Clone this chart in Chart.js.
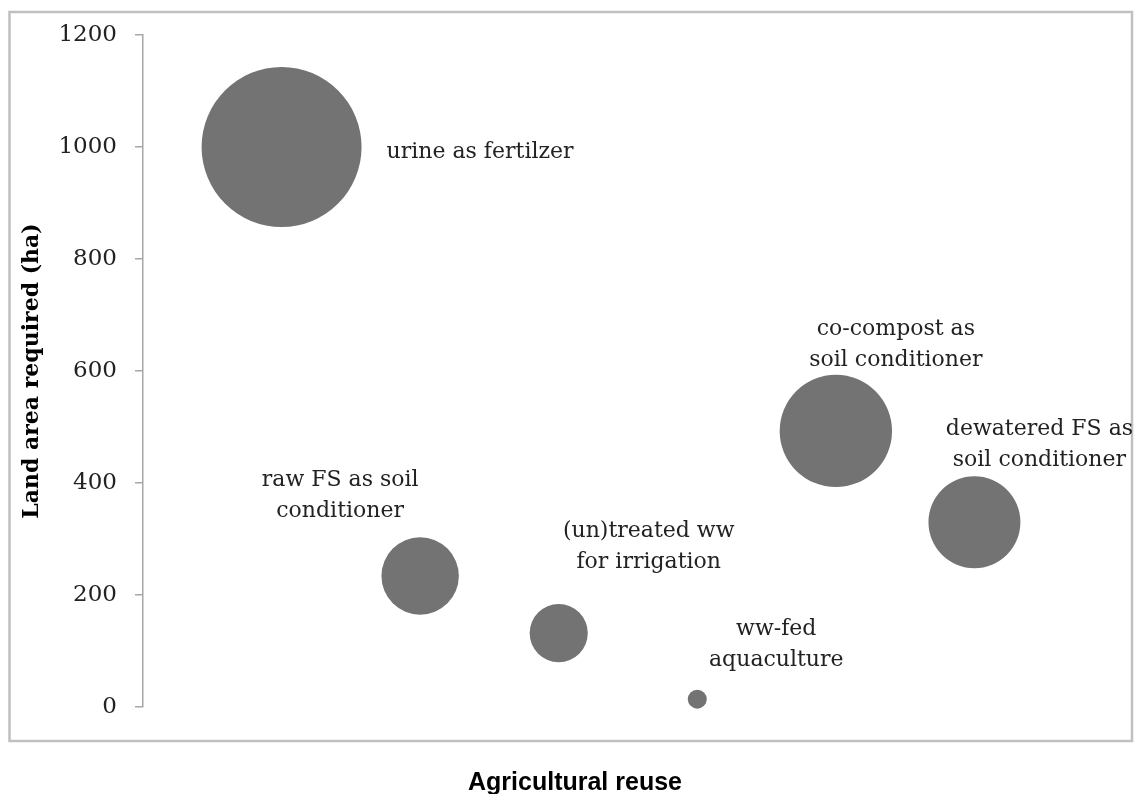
<!DOCTYPE html>
<html lang="en">
<head>
    <meta charset="UTF-8">
    <title>Land area required for agricultural reuse</title>
    <script src="https://cdn.jsdelivr.net/npm/chart.js"></script>
    <style>
        html, body { margin: 0; padding: 0; background: #fff; }
        #wrap { width: 1138px; height: 794px; }
    </style>
</head>
<body>
<div id="wrap"><canvas id="myChart" width="1138" height="794"></canvas></div>

<script>
// data
const categorias = [
    ["urine as fertilzer"],
    ["raw FS as soil", "conditioner"],
    ["(un)treated ww", "for irrigation"],
    ["ww-fed", "aquaculture"],
    ["co-compost as", "soil conditioner"],
    ["dewatered FS as", "soil conditioner"]
];
const posicionX = [1, 2, 3, 4, 5, 6];
const areaHa = [1000, 234, 132, 14, 493, 330];
const tamano = [1000, 234, 132, 14, 493, 330];   // bubble size = land area
const ticksY = [0, 200, 400, 600, 800, 1000, 1200];

// where each label sits relative to its bubble (pixels)
const etiquetas = [
    { align: "left",   dx: 105, dy: 11 },
    { align: "center", dx: -80, dy: -90 },
    { align: "center", dx: 90,  dy: -96 },
    { align: "center", dx: 79,  dy: -64 },
    { align: "center", dx: 60,  dy: -96 },
    { align: "center", dx: 65,  dy: -87 }
];

const radioMax = 80;
const tamanoMax = Math.max(...tamano);

const puntos = posicionX.map((x, i) => ({ x: x, y: areaHa[i], s: tamano[i] }));

const marcoYTextos = {
    id: "marcoYTextos",
    beforeDraw(chart) {
        const ctx = chart.ctx;
        ctx.save();
        ctx.strokeStyle = "#c0c0c0";
        ctx.lineWidth = 2.5;
        ctx.strokeRect(9.5, 12, 1122.5, 729);
        ctx.restore();
    },
    afterDraw(chart) {
        const ctx = chart.ctx;
        const meta = chart.getDatasetMeta(0);
        ctx.save();
        ctx.fillStyle = "#222222";
        ctx.font = "22px 'DejaVu Serif'";
        ctx.textBaseline = "alphabetic";
        meta.data.forEach((el, i) => {
            const e = etiquetas[i];
            ctx.textAlign = e.align;
            categorias[i].forEach((linea, j) => {
                ctx.fillText(linea, el.x + e.dx, el.y + e.dy + j * 31);
            });
        });
        ctx.fillStyle = "#000000";
        ctx.font = "bold 25px 'Liberation Sans'";
        ctx.textAlign = "center";
        ctx.fillText("Agricultural reuse", 575, 790);
        ctx.restore();
    }
};

const ctx = document.getElementById("myChart").getContext("2d");
const chart = new Chart(ctx, {
    type: "bubble",
    data: {
        datasets: [{
            label: "Land area required (ha)",
            data: puntos,
            backgroundColor: "rgb(115,115,115)",
            borderWidth: 0,
            hoverBorderWidth: 0,
            radius: c => radioMax * Math.sqrt(c.raw.s / tamanoMax),
            clip: false
        }]
    },
    options: {
        responsive: false,
        animation: false,
        events: [],
        layout: { autoPadding: false, padding: { left: 0, top: 35, right: 25, bottom: 87 } },
        plugins: {
            legend: { display: false },
            tooltip: { enabled: false }
        },
        scales: {
            x: {
                type: "linear",
                min: 0,
                max: 7,
                display: false
            },
            y: {
                type: "linear",
                min: 0,
                max: 1200,
                afterFit: s => { s.width = 143; },
                afterBuildTicks: s => { s.ticks = ticksY.map(v => ({ value: v })); },
                border: { display: true, color: "#a6a6a6", width: 1.5 },
                grid: {
                    display: true,
                    drawOnChartArea: false,
                    drawTicks: true,
                    tickLength: 8,
                    color: "#a6a6a6",
                    lineWidth: 1.5
                },
                ticks: {
                    padding: 18,
                    color: "#222222",
                    font: { family: "'DejaVu Serif'", size: 23 },
                    callback: v => String(v)
                },
                title: {
                    display: true,
                    text: "Land area required (ha)",
                    color: "#000000",
                    font: { family: "'DejaVu Serif'", size: 22, weight: "bold" },
                    padding: { top: 19, bottom: 0 }
                }
            }
        }
    },
    plugins: [marcoYTextos]
});
</script>

</body>
</html>
